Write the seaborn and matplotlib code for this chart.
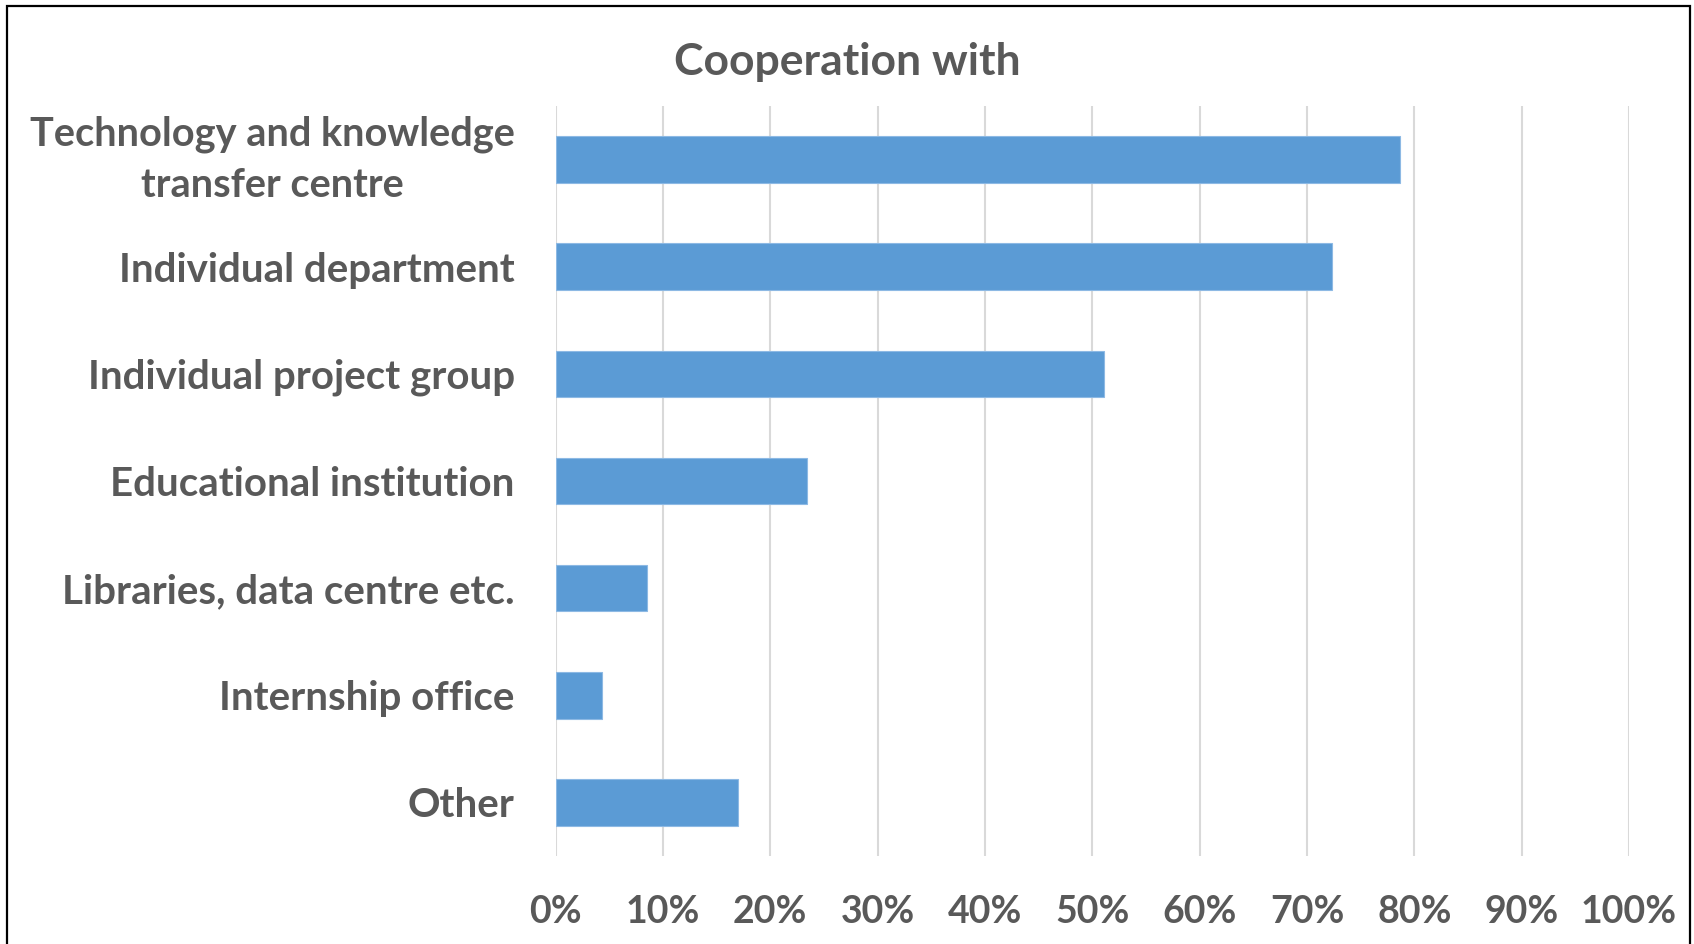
import matplotlib
matplotlib.use("Agg")
import matplotlib.pyplot as plt
import matplotlib.patches as mpatches
from matplotlib.ticker import PercentFormatter
import pandas as pd
import seaborn as sns

# Share of respondents cooperating with each unit (percent)
categories = [
    "Technology and knowledge\ntransfer centre",
    "Individual department",
    "Individual project group",
    "Educational institution",
    "Libraries, data centre etc.",
    "Internship office",
    "Other",
]
shares = [78.7, 72.3, 51.1, 23.4, 8.5, 4.3, 17.0]
x_ticks = [0, 10, 20, 30, 40, 50, 60, 70, 80, 90, 100]
title = "Cooperation with"

df = pd.DataFrame({"unit": categories, "share": shares})

sns.set_theme(style="white")
plt.rcParams["font.family"] = ["Lato", "DejaVu Sans"]

TEXT = "#595959"
BAR = "#5B9BD5"
GRID = "#D9D9D9"

W, H = 1694, 944
fig = plt.figure(figsize=(W / 100, H / 100), dpi=100)
ax = fig.add_axes([555.6 / W, 1 - 856 / H, (1629 - 555.6) / W, (856 - 106) / H])

sns.barplot(data=df, x="share", y="unit", orient="h", color=BAR,
            saturation=1, width=0.435, edgecolor="#8DB9E4", linewidth=0.8,
            ax=ax, zorder=3)

ax.set_xlim(0, 100)
ax.set_ylim(len(categories) - 0.5, -0.5)
ax.set_xticks(x_ticks)
ax.xaxis.set_major_formatter(PercentFormatter(decimals=0))
ax.grid(axis="x", color=GRID, linewidth=1.5, zorder=0)
ax.grid(axis="y", visible=False)
for s in ax.spines.values():
    s.set_visible(False)
ax.set_xlabel("")
ax.set_ylabel("")
ax.tick_params(axis="both", length=0)
ax.tick_params(axis="y", pad=29.5, labelsize=29, labelcolor=TEXT)
ax.tick_params(axis="x", pad=28, labelsize=27, labelcolor=TEXT)
for lab in ax.get_yticklabels():
    lab.set_fontweight("bold")
    if "\n" in lab.get_text():
        lab.set_multialignment("center")
        lab.set_linespacing(1.45)
        lab.set_verticalalignment("center")
        lab.set_fontsize(28.6)
for lab in ax.get_xticklabels():
    lab.set_fontweight("bold")

fig.text(0.5, 1 - 75 / H, title, ha="center", va="baseline",
         fontsize=32, fontweight="bold", color=TEXT)

# outer frame of the chart area
frame = mpatches.Rectangle((7 / W, -0.05), (1690 - 7) / W, 1.05 - 6 / H,
                           transform=fig.transFigure, fill=False,
                           edgecolor="black", linewidth=1.6, clip_on=False)
fig.patches.append(frame)

fig.savefig("out.png", dpi=100)
